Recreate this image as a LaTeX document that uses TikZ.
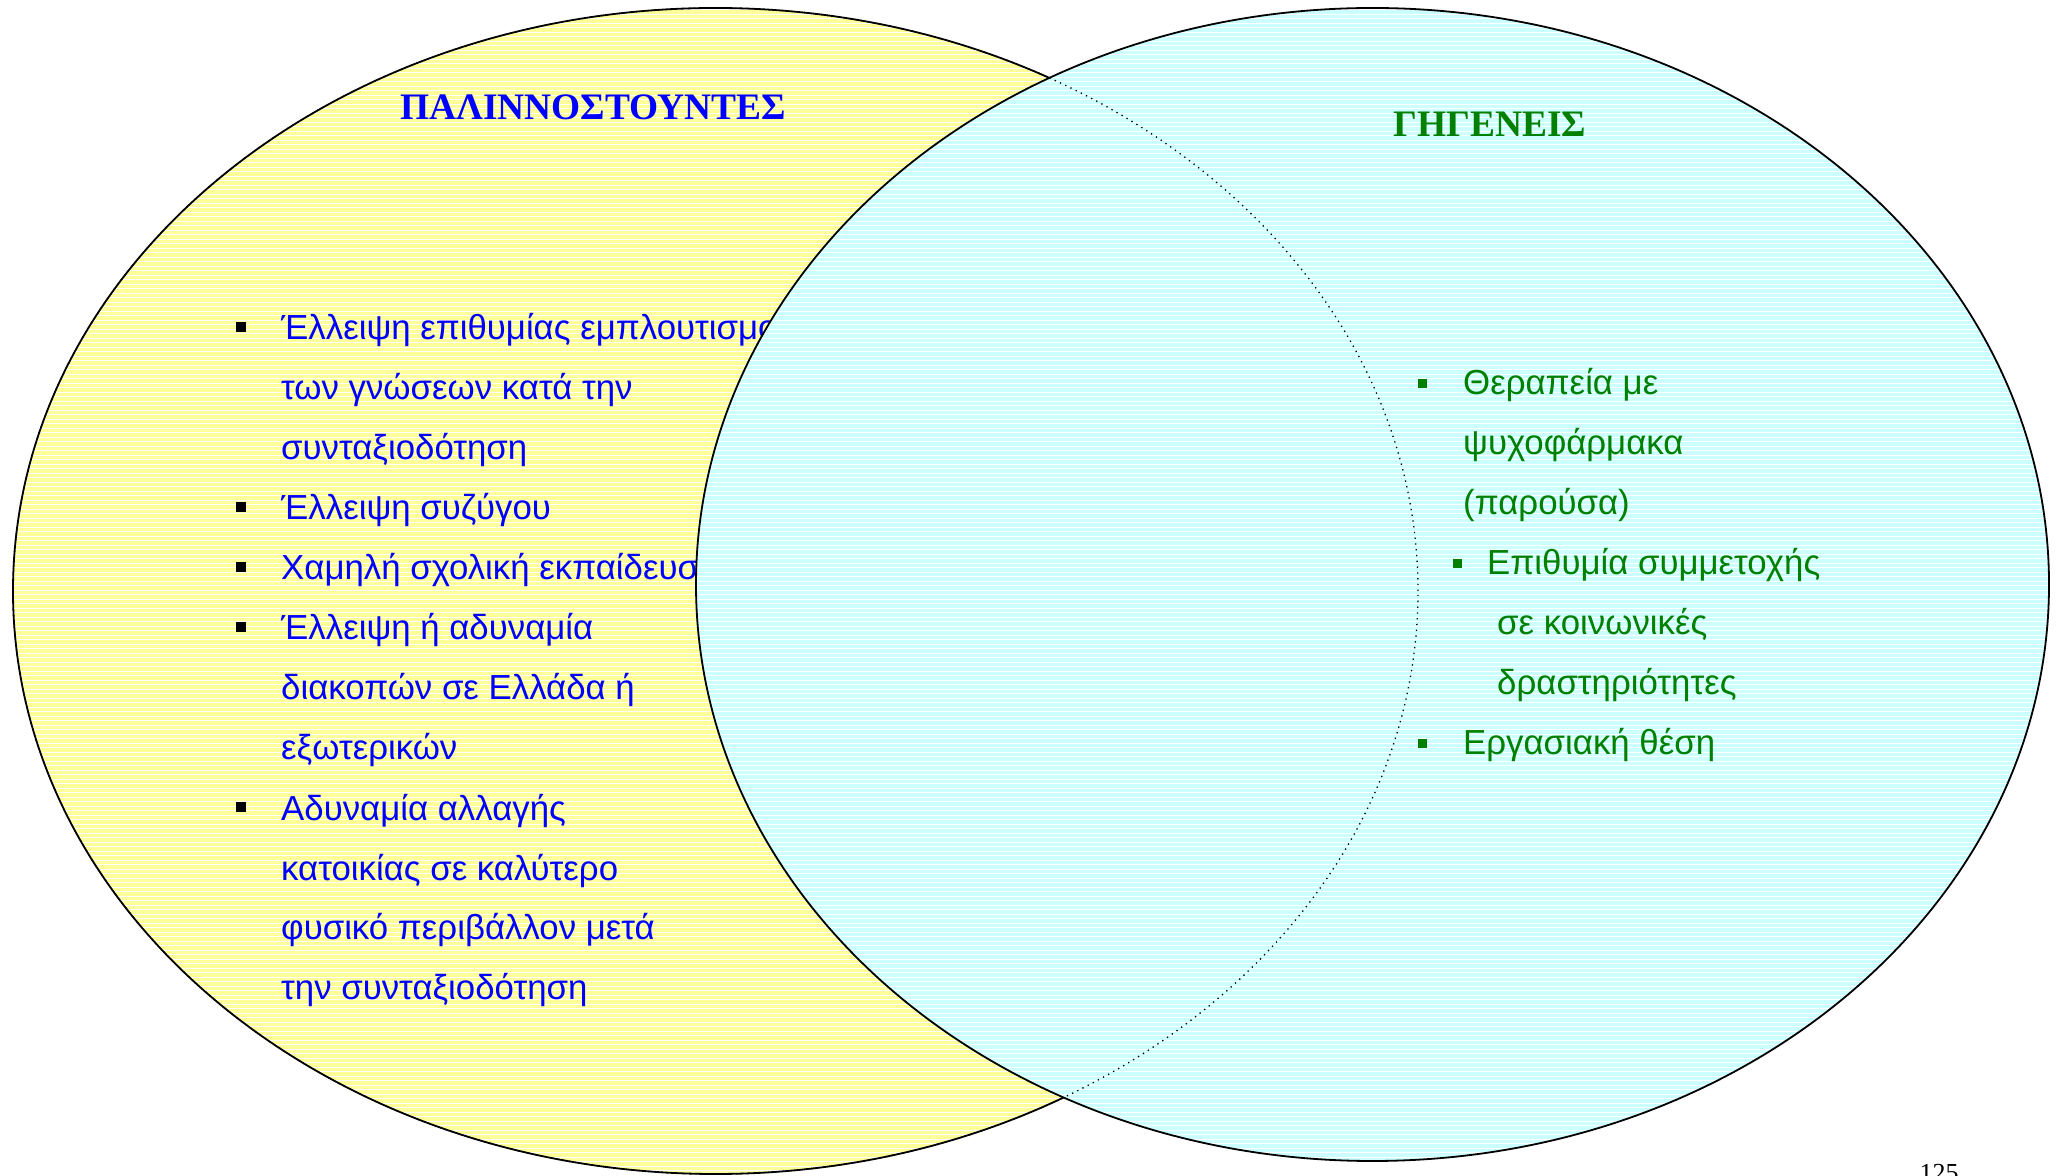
\documentclass[tikz,border=0pt]{standalone}
\usepackage{fontspec}
\setmainfont{Liberation Sans}
\newfontfamily\titlefont{Liberation Serif}
\usepackage{xcolor}
\usetikzlibrary{calc, positioning}
\definecolor{retyellow}{RGB}{255,255,153}
\definecolor{natcyan}{RGB}{204,255,255}
\definecolor{retblue}{RGB}{0,0,255}
\definecolor{natgreen}{RGB}{0,128,0}
\tikzset{
  stripe/.style={draw=white, line width=0.9pt},
  outline/.style={draw=black, line width=1.8pt},
  dotline/.style={draw=black, line width=1.3pt, dash pattern=on 1.3pt off 4.5pt},
  title/.style={font=\titlefont\bfseries\fontsize{37.4}{40}\selectfont, inner sep=0pt},
  itemL/.style={anchor=base west, align=left, inner sep=0pt, text=retblue,
                font=\fontsize{34.8}{60}\selectfont},
  itemR/.style={itemL, text=natgreen},
  bulL/.style={rectangle, fill=black, minimum size=10pt, inner sep=0pt},
  bulR/.style={bulL, fill=natgreen, minimum size=9pt},
}
\begin{document}
\begin{tikzpicture}[x=1pt, y=1pt]
  \useasboundingbox (0,0) rectangle (2060,1175);
  \coordinate (retc) at (715.5,584);
  \coordinate (natc) at (1372.5,590.5);

  % left set
  \fill[retyellow] (retc) ellipse [x radius=702.5, y radius=583];
  \begin{scope}
    \clip (retc) ellipse [x radius=702.5, y radius=583];
    \foreach \k in {0,...,262} \draw[stripe] (0,\k*4.5) -- (2060,\k*4.5);
  \end{scope}
  \draw[outline] (retc) ellipse [x radius=702.5, y radius=583];

  % items (placed at the baseline of their last line)
  \node[itemL] (ret1) at (281,715) {Έλλειψη επιθυμίας εμπλουτισμού\\των γνώσεων κατά την\\συνταξιοδότηση};
  \node[itemL] (ret2) at (281,655) {Έλλειψη συζύγου};
  \node[itemL] (ret3) at (281,595) {Χαμηλή σχολική εκπαίδευση};
  \node[itemL] (ret4) at (281,415) {Έλλειψη ή αδυναμία\\διακοπών σε Ελλάδα ή\\εξωτερικών};
  \node[itemL] (ret5) at (281,175) {Αδυναμία αλλαγής\\κατοικίας σε καλύτερο\\φυσικό περιβάλλον μετά\\την συνταξιοδότηση};
  \node[bulL] (bl1) at (241,847.5) {};
  \node[bulL] (bl2) at (241,667.5) {};
  \node[bulL] (bl3) at (241,607.5) {};
  \node[bulL] (bl4) at (241,547.5) {};
  \node[bulL] (bl5) at (241,367.5) {};

  % right set
  \fill[natcyan] (natc) ellipse [x radius=676.5, y radius=576.5];
  \begin{scope}
    \clip (natc) ellipse [x radius=676.5, y radius=576.5];
    \foreach \k in {0,...,262} \draw[stripe] (0,\k*4.5) -- (2060,\k*4.5);
  \end{scope}

  \node[itemR] (nat1) at (1463,660) {Θεραπεία με\\ψυχοφάρμακα\\(παρούσα)};
  \node[itemR] (nat2) at (1487,480) {Επιθυμία συμμετοχής\\\hspace*{10pt}σε κοινωνικές\\\hspace*{10pt}δραστηριότητες};
  \node[itemR] (nat3) at (1463,420) {Εργασιακή θέση};
  \node[bulR] (br1) at (1422,791) {};
  \node[bulR] (br2) at (1457,611) {};
  \node[bulR] (br3) at (1422,431) {};

  % titles
  \node[title, text=retblue]   (rettitle) at (593,1067.5) {ΠΑΛΙΝΝΟΣΤΟΥΝΤΕΣ};
  \node[title, text=natgreen]  (nattitle) at (1490,1050.5) {ΓΗΓΕΝΕΙΣ};

  % outlines
  \draw[dotline] (retc) ellipse [x radius=702.5, y radius=583];
  \draw[outline] (natc) ellipse [x radius=676.5, y radius=576.5];

  \node[anchor=base, inner sep=0pt, font=\titlefont\fontsize{26}{28}\selectfont] (pgnum) at (1939,-6) {125};
\end{tikzpicture}
\end{document}
